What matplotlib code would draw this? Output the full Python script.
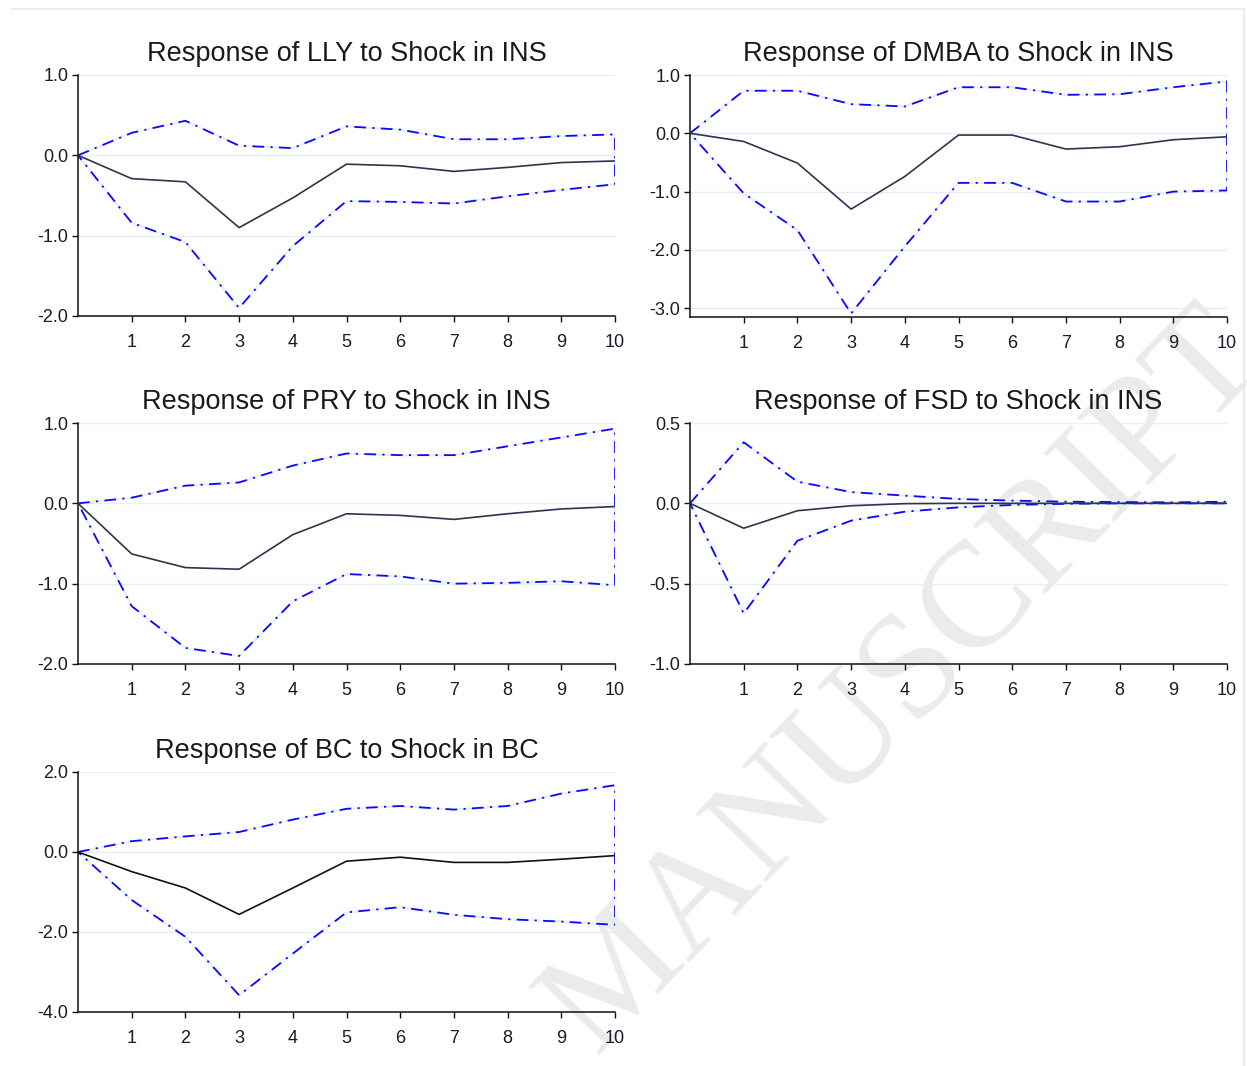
import matplotlib
matplotlib.use("Agg")
import matplotlib.pyplot as plt
from matplotlib.lines import Line2D

plt.rcParams['font.family'] = ['Liberation Sans', 'DejaVu Sans']

# horizon (periods after the shock)
steps = [0, 1, 2, 3, 4, 5, 6, 7, 8, 9, 10]
xtick_labels = ['1', '2', '3', '4', '5', '6', '7', '8', '9', '10']

titles = [
    'Response of LLY to Shock in INS',
    'Response of DMBA to Shock in INS',
    'Response of PRY to Shock in INS',
    'Response of FSD to Shock in INS',
    'Response of BC to Shock in BC',
]

# point responses
lly_resp = [0, -0.29, -0.33, -0.90, -0.53, -0.11, -0.13, -0.20, -0.15, -0.09, -0.07]
dmba_resp = [0, -0.14, -0.51, -1.30, -0.74, -0.03, -0.03, -0.27, -0.23, -0.11, -0.06]
pry_resp = [0, -0.63, -0.80, -0.82, -0.39, -0.13, -0.15, -0.20, -0.13, -0.07, -0.04]
fsd_resp = [0, -0.155, -0.046, -0.015, -0.002, 0.0, 0.0, 0.0, 0.0, 0.0, 0.0]
bc_resp = [0, -0.49, -0.90, -1.56, -0.90, -0.23, -0.13, -0.26, -0.26, -0.18, -0.09]

# upper bands
lly_up = [0, 0.28, 0.43, 0.12, 0.09, 0.36, 0.32, 0.20, 0.20, 0.24, 0.26]
dmba_up = [0, 0.73, 0.73, 0.50, 0.46, 0.79, 0.79, 0.66, 0.67, 0.79, 0.89]
pry_up = [0, 0.07, 0.22, 0.26, 0.47, 0.62, 0.60, 0.60, 0.71, 0.82, 0.93]
fsd_up = [0, 0.38, 0.135, 0.07, 0.048, 0.027, 0.017, 0.010, 0.008, 0.006, 0.010]
bc_up = [0, 0.27, 0.39, 0.50, 0.81, 1.08, 1.15, 1.06, 1.15, 1.46, 1.67]

# lower bands
lly_lo = [0, -0.84, -1.08, -1.90, -1.13, -0.57, -0.58, -0.60, -0.51, -0.43, -0.36]
dmba_lo = [0, -1.03, -1.66, -3.09, -1.94, -0.85, -0.85, -1.17, -1.17, -1.00, -0.98]
pry_lo = [0, -1.28, -1.80, -1.90, -1.22, -0.88, -0.91, -1.00, -0.99, -0.97, -1.02]
fsd_lo = [0, -0.685, -0.233, -0.108, -0.052, -0.025, -0.010, -0.003, 0.0, 0.0, 0.0]
bc_lo = [0, -1.20, -2.12, -3.58, -2.54, -1.51, -1.38, -1.57, -1.68, -1.74, -1.82]

responses = [lly_resp, dmba_resp, pry_resp, fsd_resp, bc_resp]
uppers = [lly_up, dmba_up, pry_up, fsd_up, bc_up]
lowers = [lly_lo, dmba_lo, pry_lo, fsd_lo, bc_lo]

yticks = [
    [-2.0, -1.0, 0.0, 1.0],
    [-3.0, -2.0, -1.0, 0.0, 1.0],
    [-2.0, -1.0, 0.0, 1.0],
    [-1.0, -0.5, 0.0, 0.5],
    [-4.0, -2.0, 0.0, 2.0],
]
ylims = [(-2.0, 1.0), (-3.15, 1.0), (-2.0, 1.0), (-1.0, 0.5), (-4.0, 2.0)]

W, H = 1247, 1066
fig = plt.figure(figsize=(W / 100, H / 100), dpi=100)

# watermark, behind the panels
fig.text(905 / W, 1 - 682 / H, 'MANUSCRIPT', ha='center', va='center',
         fontsize=108, color='#ebebeb', family=['Liberation Serif', 'DejaVu Serif'],
         rotation=46, rotation_mode='anchor', zorder=-1)

# axes boxes in pixels: left, right, top, bottom
boxes = [
    (78, 615, 75, 316),
    (690, 1227, 75, 317),
    (78, 615, 423, 664),
    (690, 1227, 423, 664),
    (78, 615, 772, 1012),
]
line_cols = ['#2f3350', '#2f3350', '#2f3350', '#2f3350', '#111111']
band_col = '#0a0aff'
grid_col = '#e6eef2'
dashdot = (0, (6.5, 3.5, 1.2, 3.5))

for i in range(5):
    l, r, t, b = boxes[i]
    ax = fig.add_axes([l / W, 1 - b / H, (r - l) / W, (b - t) / H])
    ax.set_xlim(0, 10)
    ax.set_ylim(*ylims[i])

    for yv in yticks[i]:
        ax.axhline(yv, color=grid_col, lw=1.0, zorder=0)

    # closed band: upper out to 10, down, then lower back to 0
    bx = steps + steps[::-1]
    by = uppers[i] + lowers[i][::-1]
    ax.plot(bx, by, color='#e9eff3', lw=1.6, zorder=1)
    ax.plot(bx, by, color=band_col, lw=1.3, linestyle=dashdot, zorder=2)
    ax.plot(steps, responses[i], color=line_cols[i], lw=1.2, zorder=3)

    ax.set_xticks(steps[1:])
    ax.set_xticklabels(xtick_labels)
    ax.set_yticks(yticks[i])
    ax.set_yticklabels(['%.1f' % v for v in yticks[i]])

    for side in ['top', 'right']:
        ax.spines[side].set_visible(False)
    for side in ['left', 'bottom']:
        ax.spines[side].set_linewidth(1.1)
        ax.spines[side].set_color('#111111')
    ax.tick_params(axis='y', direction='out', length=4, width=1.0, pad=3,
                   labelsize=13, colors='#111111', labelcolor='#1a1a2a')
    ax.tick_params(axis='x', direction='out', length=4, width=1.0, pad=9,
                   labelsize=13, colors='#111111', labelcolor='#1a1a2a')
    ax.set_title(titles[i], fontsize=19.5, color='#1a1a1a', pad=10)
    ax.patch.set_alpha(0)

# thin page frame
fig.add_artist(Line2D([11 / W, 1241 / W], [1 - 9 / H, 1 - 9 / H],
                      color='#e4ecef', lw=1.2))
fig.add_artist(Line2D([1244 / W, 1244 / W], [1 - 9 / H, 0],
                      color='#e4ecef', lw=1.5))

fig.savefig('out.png', dpi=100)
